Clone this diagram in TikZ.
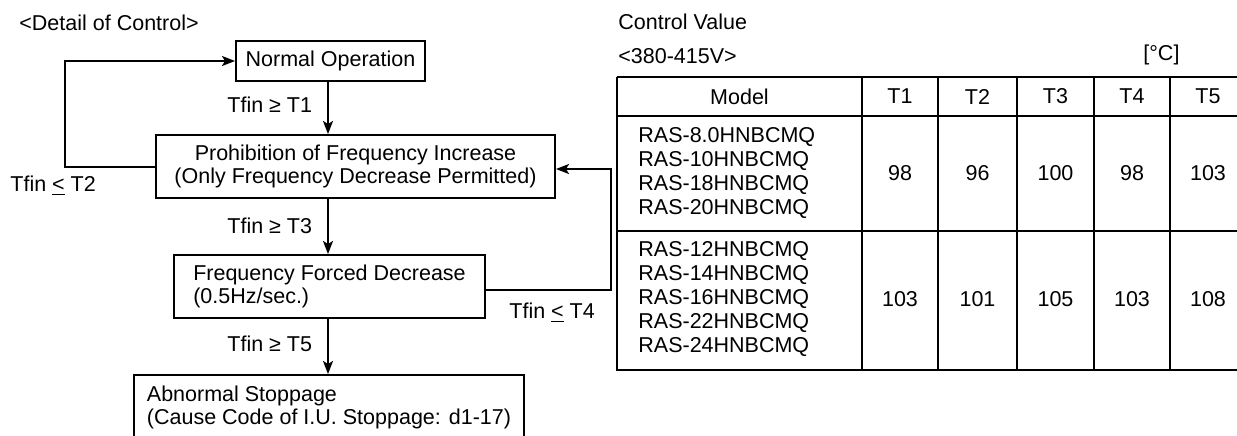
\documentclass[tikz,border=0pt]{standalone}
\usepackage{fontspec}
\setmainfont{Liberation Sans}
\usetikzlibrary{arrows.meta}
\newcommand\myfs{\fontsize{10.75pt}{11.9pt}\selectfont}
\begin{document}
\begin{tikzpicture}[x=0.5pt,y=-0.5pt,
  box/.style={draw, line width=1pt, inner sep=0pt, align=center, font=\myfs},
  lbox/.style={box, align=left},
  txt/.style={inner sep=0pt, font=\myfs},
  lbl/.style={txt, anchor=west},
  arr/.style={line width=1pt, -{Stealth[length=6.5pt,width=5pt,inset=1.5pt]}},
  tline/.style={line width=1pt}]
\useasboundingbox (0,0) rectangle (1237,435);
\clip (0,0) rectangle (1237,435);
% titles
\node[lbl] (title) at (19,23) {<Detail of Control>};
\node[lbl] (cv) at (618,22) {Control Value};
\node[lbl] (volt) at (618,56) {<380-415V>};
\node[lbl] (unit) at (1143,55) {[°C]};
% flow boxes
\node[box, minimum width=94.5pt, minimum height=20pt] (NO) at (330.5,61) {Normal Operation};
\node[box, minimum width=199.5pt, minimum height=31.5pt] (PR) at (355.5,166.5)
  {Prohibition of Frequency Increase\\(Only Frequency Decrease Permitted)};
\node[lbox, minimum width=155.5pt, minimum height=31.5pt] (FD) at (329.5,286.5)
  {Frequency Forced Decrease\\(0.5Hz/sec.)};
\node[lbox, minimum width=195pt, minimum height=32.5pt] (AB) at (329,407.5)
  {Abnormal Stoppage\\(Cause Code of I.U. Stoppage: d1-17)};
\coordinate (ax) at (328,0);
% arrows
\draw[arr] (NO.south -| ax) -- (PR.north -| ax);
\draw[arr] (PR.south -| ax) -- (FD.north -| ax);
\draw[arr] (FD.south -| ax) -- (AB.north -| ax);
\draw[arr] (PR.west) -- ++(-90,0) |- (NO.west);
\draw[arr] ([yshift=-1.75pt]FD.east) -- ++(125,0) |- ([yshift=-1.25pt]PR.east);
% labels
\node[lbl] (l1) at (227,105) {Tfin ≥ T1};
\node[lbl] (l2) at (10,186) {Tfin \underline{<} T2};
\node[lbl] (l3) at (227,226) {Tfin ≥ T3};
\node[lbl] (l4) at (509,313) {Tfin \underline{<} T4};
\node[lbl] (l5) at (227,344) {Tfin ≥ T5};
% table
\foreach \y in {77,116,231,370} \draw[tline] (616.5,\y) -- (1240,\y);
\foreach \x in {617,862,938,1017,1094,1170} \draw[tline] (\x,76.5) -- (\x,370.5);
\node[txt] (hM) at (739.5,96.5) {Model};
\node[txt] (h1) at (900,96.5) {T1};
\node[txt] (h2) at (977.5,96.5) {T2};
\node[txt] (h3) at (1055.5,96.5) {T3};
\node[txt] (h4) at (1132,96.5) {T4};
\node[txt] (h5) at (1208,96.5) {T5};
\node[txt, anchor=west, align=left] (m1) at (638,173)
  {RAS-8.0HNBCMQ\\RAS-10HNBCMQ\\RAS-18HNBCMQ\\RAS-20HNBCMQ};
\node[txt, anchor=west, align=left] (m2) at (638,299)
  {RAS-12HNBCMQ\\RAS-14HNBCMQ\\RAS-16HNBCMQ\\RAS-22HNBCMQ\\RAS-24HNBCMQ};
\node[txt] (a1) at (900,173) {98};
\node[txt] (a2) at (977.5,173) {96};
\node[txt] (a3) at (1055.5,173) {100};
\node[txt] (a4) at (1132,173) {98};
\node[txt] (a5) at (1208,173) {103};
\node[txt] (b1) at (900,299) {103};
\node[txt] (b2) at (977.5,299) {101};
\node[txt] (b3) at (1055.5,299) {105};
\node[txt] (b4) at (1132,299) {103};
\node[txt] (b5) at (1208,299) {108};
\end{tikzpicture}
\end{document}
